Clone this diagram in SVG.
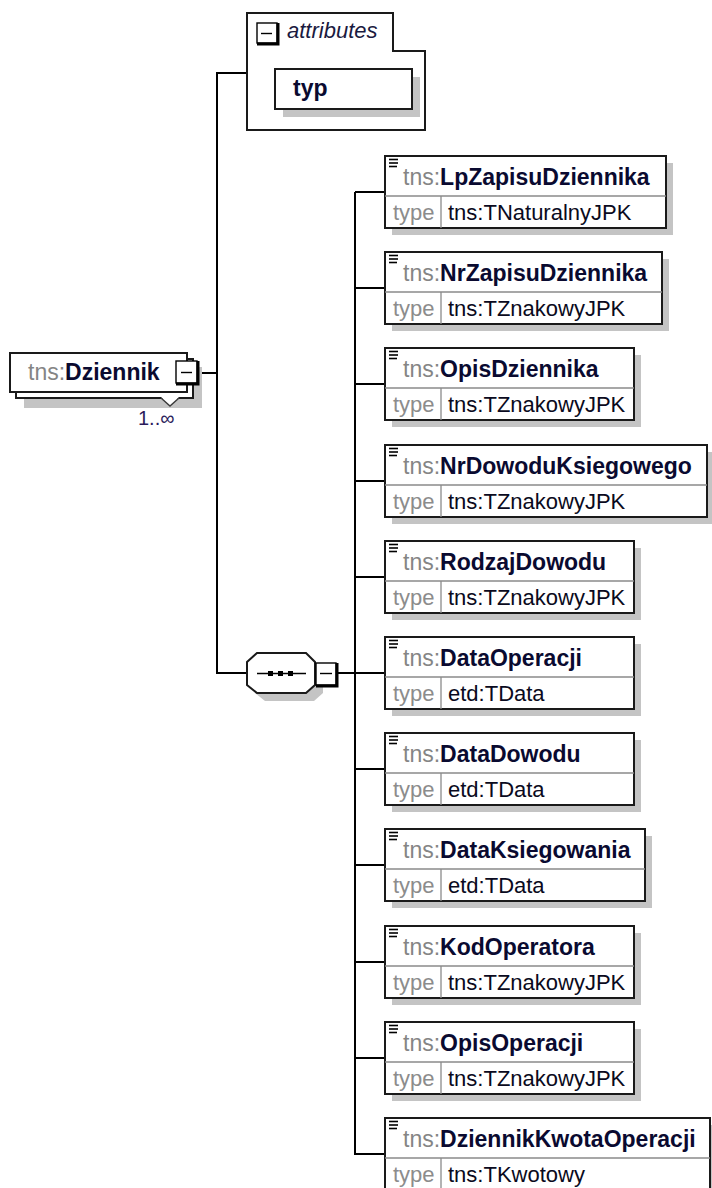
<svg xmlns="http://www.w3.org/2000/svg" width="712" height="1188" viewBox="0 0 712 1188">
<style>
.bg{fill:#ffffff}
.shadow{fill:#c4c4c4;stroke:none}
.box{fill:#ffffff;stroke:#1a1a1a;stroke-width:2}
.div{stroke:#8a8a8a;stroke-width:1.3}
.ln{fill:none;stroke:#000000;stroke-width:2}
.icon{stroke:#000000;stroke-width:1.6}
.mb{fill:#ffffff;stroke:#000000;stroke-width:1.4}
.mbt{fill:none;stroke:#000000;stroke-width:3}
.ml{stroke:#000000;stroke-width:1.4}
text{font-family:"Liberation Sans",Arial,sans-serif}
.nm{font-size:23px;font-weight:bold;fill:#0a0a30}
.ns{font-weight:normal;fill:#858585}
.tl{font-size:22px;fill:#8c8c8c}
.tv{font-size:22px;fill:#0a0a20}
.occ{font-size:20px;fill:#2b1b5b}
.att{font-size:22px;font-style:italic;fill:#1a1a40}
</style>
<defs>
<g id="elicon">
<line class="icon" x1="389" y1="3.5" x2="398" y2="3.5"/>
<line class="icon" x1="389" y1="7" x2="398" y2="7"/>
<line class="icon" x1="389" y1="10.5" x2="397" y2="10.5"/>
</g>
</defs>
<rect class="bg" x="0" y="0" width="712" height="1188"/>

<g id="connectors">
<path class="ln" d="M199 373 H217"/>
<path class="ln" d="M217 73 V673"/>
<path class="ln" d="M216 73 H247"/>
<path class="ln" d="M216 673 H247"/>
<path class="ln" d="M338 673 H385"/>
<path class="ln" d="M355 192 V1154"/>
<path class="ln" d="M355 192 H385"/>
<path class="ln" d="M355 288 H385"/>
<path class="ln" d="M355 384 H385"/>
<path class="ln" d="M355 481 H385"/>
<path class="ln" d="M355 577 H385"/>
<path class="ln" d="M355 769 H385"/>
<path class="ln" d="M355 865 H385"/>
<path class="ln" d="M355 962 H385"/>
<path class="ln" d="M355 1058 H385"/>
<path class="ln" d="M354 1154 H385"/>
</g>

<g id="node-Dziennik">
<rect class="shadow" x="24" y="367" width="178" height="41"/>
<rect class="box" x="16" y="359" width="177" height="39"/>
<rect class="box" x="10" y="353" width="177" height="39"/>
<polygon points="161,397 170,406 179,397" fill="#ffffff" stroke="none"/>
<polyline points="161,398 170,406 179,398" fill="none" stroke="#3a3a3a" stroke-width="1.4"/>
<rect class="mb" x="176" y="361" width="21" height="22"/>
<polyline class="mbt" points="198,361 198,384 176,384"/>
<line class="ml" x1="181" y1="372.5" x2="192" y2="372.5"/>
<text class="nm" x="28" y="380"><tspan class="ns">tns:</tspan>Dziennik</text>
<text class="occ" x="138" y="425">1..∞</text>
</g>

<g id="node-attributes">
<path class="box" d="M247 13 H393 V51 H425 V130 H247 Z"/>
<rect class="mb" x="257" y="23" width="20" height="20"/>
<polyline class="mbt" points="278,23 278,44 257,44"/>
<line class="ml" x1="261" y1="33.5" x2="272" y2="33.5"/>
<text class="att" x="287" y="38">attributes</text>
</g>

<g id="node-typ">
<rect class="shadow" x="283" y="77" width="137" height="40"/>
<rect class="box" x="275" y="69" width="137" height="40"/>
<text class="nm" x="293" y="96">typ</text>
</g>

<g id="node-sequence">
<polygon class="shadow" points="265,661 314,661 323,670 323,693 314,701 265,701 255,693 255,670"/>
<polygon class="box" points="257,653 306,653 315,662 315,685 306,693 257,693 247,685 247,662"/>
<line x1="257" y1="673.5" x2="306" y2="673.5" stroke="#000" stroke-width="1.6"/>
<rect x="268" y="671" width="5" height="5" fill="#000"/>
<rect x="278" y="671" width="5" height="5" fill="#000"/>
<rect x="288" y="671" width="5" height="5" fill="#000"/>
<rect class="mb" x="316" y="663" width="20" height="22"/>
<polyline class="mbt" points="337,663 337,686 316,686"/>
<line class="ml" x1="320" y1="673.5" x2="332" y2="673.5"/>
</g>

<g id="node-LpZapisuDziennika" transform="translate(0,156)">
<rect class="shadow" x="392" y="7" width="281" height="72"/>
<rect class="box" x="385" y="0" width="281" height="72"/>
<line class="div" x1="385" y1="40" x2="666" y2="40"/>
<line class="div" x1="441" y1="40" x2="441" y2="72"/>
<use href="#elicon"/>
<text class="nm" x="403" y="29"><tspan class="ns">tns:</tspan>LpZapisuDziennika</text>
<text class="tl" x="393" y="64">type</text>
<text class="tv" x="448" y="64">tns:TNaturalnyJPK</text>
</g>

<g id="node-NrZapisuDziennika" transform="translate(0,252)">
<rect class="shadow" x="392" y="7" width="277" height="72"/>
<rect class="box" x="385" y="0" width="277" height="72"/>
<line class="div" x1="385" y1="40" x2="662" y2="40"/>
<line class="div" x1="441" y1="40" x2="441" y2="72"/>
<use href="#elicon"/>
<text class="nm" x="403" y="29"><tspan class="ns">tns:</tspan>NrZapisuDziennika</text>
<text class="tl" x="393" y="64">type</text>
<text class="tv" x="448" y="64">tns:TZnakowyJPK</text>
</g>

<g id="node-OpisDziennika" transform="translate(0,348)">
<rect class="shadow" x="392" y="7" width="249" height="72"/>
<rect class="box" x="385" y="0" width="249" height="72"/>
<line class="div" x1="385" y1="40" x2="634" y2="40"/>
<line class="div" x1="441" y1="40" x2="441" y2="72"/>
<use href="#elicon"/>
<text class="nm" x="403" y="29"><tspan class="ns">tns:</tspan>OpisDziennika</text>
<text class="tl" x="393" y="64">type</text>
<text class="tv" x="448" y="64">tns:TZnakowyJPK</text>
</g>

<g id="node-NrDowoduKsiegowego" transform="translate(0,445)">
<rect class="shadow" x="392" y="7" width="322" height="72"/>
<rect class="box" x="385" y="0" width="322" height="72"/>
<line class="div" x1="385" y1="40" x2="707" y2="40"/>
<line class="div" x1="441" y1="40" x2="441" y2="72"/>
<use href="#elicon"/>
<text class="nm" x="403" y="29"><tspan class="ns">tns:</tspan>NrDowoduKsiegowego</text>
<text class="tl" x="393" y="64">type</text>
<text class="tv" x="448" y="64">tns:TZnakowyJPK</text>
</g>

<g id="node-RodzajDowodu" transform="translate(0,541)">
<rect class="shadow" x="392" y="7" width="249" height="72"/>
<rect class="box" x="385" y="0" width="249" height="72"/>
<line class="div" x1="385" y1="40" x2="634" y2="40"/>
<line class="div" x1="441" y1="40" x2="441" y2="72"/>
<use href="#elicon"/>
<text class="nm" x="403" y="29"><tspan class="ns">tns:</tspan>RodzajDowodu</text>
<text class="tl" x="393" y="64">type</text>
<text class="tv" x="448" y="64">tns:TZnakowyJPK</text>
</g>

<g id="node-DataOperacji" transform="translate(0,637)">
<rect class="shadow" x="392" y="7" width="249" height="72"/>
<rect class="box" x="385" y="0" width="249" height="72"/>
<line class="div" x1="385" y1="40" x2="634" y2="40"/>
<line class="div" x1="441" y1="40" x2="441" y2="72"/>
<use href="#elicon"/>
<text class="nm" x="403" y="29"><tspan class="ns">tns:</tspan>DataOperacji</text>
<text class="tl" x="393" y="64">type</text>
<text class="tv" x="448" y="64">etd:TData</text>
</g>

<g id="node-DataDowodu" transform="translate(0,733)">
<rect class="shadow" x="392" y="7" width="249" height="72"/>
<rect class="box" x="385" y="0" width="249" height="72"/>
<line class="div" x1="385" y1="40" x2="634" y2="40"/>
<line class="div" x1="441" y1="40" x2="441" y2="72"/>
<use href="#elicon"/>
<text class="nm" x="403" y="29"><tspan class="ns">tns:</tspan>DataDowodu</text>
<text class="tl" x="393" y="64">type</text>
<text class="tv" x="448" y="64">etd:TData</text>
</g>

<g id="node-DataKsiegowania" transform="translate(0,829)">
<rect class="shadow" x="392" y="7" width="260" height="72"/>
<rect class="box" x="385" y="0" width="260" height="72"/>
<line class="div" x1="385" y1="40" x2="645" y2="40"/>
<line class="div" x1="441" y1="40" x2="441" y2="72"/>
<use href="#elicon"/>
<text class="nm" x="403" y="29"><tspan class="ns">tns:</tspan>DataKsiegowania</text>
<text class="tl" x="393" y="64">type</text>
<text class="tv" x="448" y="64">etd:TData</text>
</g>

<g id="node-KodOperatora" transform="translate(0,926)">
<rect class="shadow" x="392" y="7" width="249" height="72"/>
<rect class="box" x="385" y="0" width="249" height="72"/>
<line class="div" x1="385" y1="40" x2="634" y2="40"/>
<line class="div" x1="441" y1="40" x2="441" y2="72"/>
<use href="#elicon"/>
<text class="nm" x="403" y="29"><tspan class="ns">tns:</tspan>KodOperatora</text>
<text class="tl" x="393" y="64">type</text>
<text class="tv" x="448" y="64">tns:TZnakowyJPK</text>
</g>

<g id="node-OpisOperacji" transform="translate(0,1022)">
<rect class="shadow" x="392" y="7" width="249" height="72"/>
<rect class="box" x="385" y="0" width="249" height="72"/>
<line class="div" x1="385" y1="40" x2="634" y2="40"/>
<line class="div" x1="441" y1="40" x2="441" y2="72"/>
<use href="#elicon"/>
<text class="nm" x="403" y="29"><tspan class="ns">tns:</tspan>OpisOperacji</text>
<text class="tl" x="393" y="64">type</text>
<text class="tv" x="448" y="64">tns:TZnakowyJPK</text>
</g>

<g id="node-DziennikKwotaOperacji" transform="translate(0,1118)">
<rect class="shadow" x="392" y="7" width="325" height="72"/>
<rect class="box" x="385" y="0" width="325" height="72"/>
<line class="div" x1="385" y1="40" x2="710" y2="40"/>
<line class="div" x1="441" y1="40" x2="441" y2="72"/>
<use href="#elicon"/>
<text class="nm" x="403" y="29"><tspan class="ns">tns:</tspan>DziennikKwotaOperacji</text>
<text class="tl" x="393" y="64">type</text>
<text class="tv" x="448" y="64">tns:TKwotowy</text>
</g>
</svg>
